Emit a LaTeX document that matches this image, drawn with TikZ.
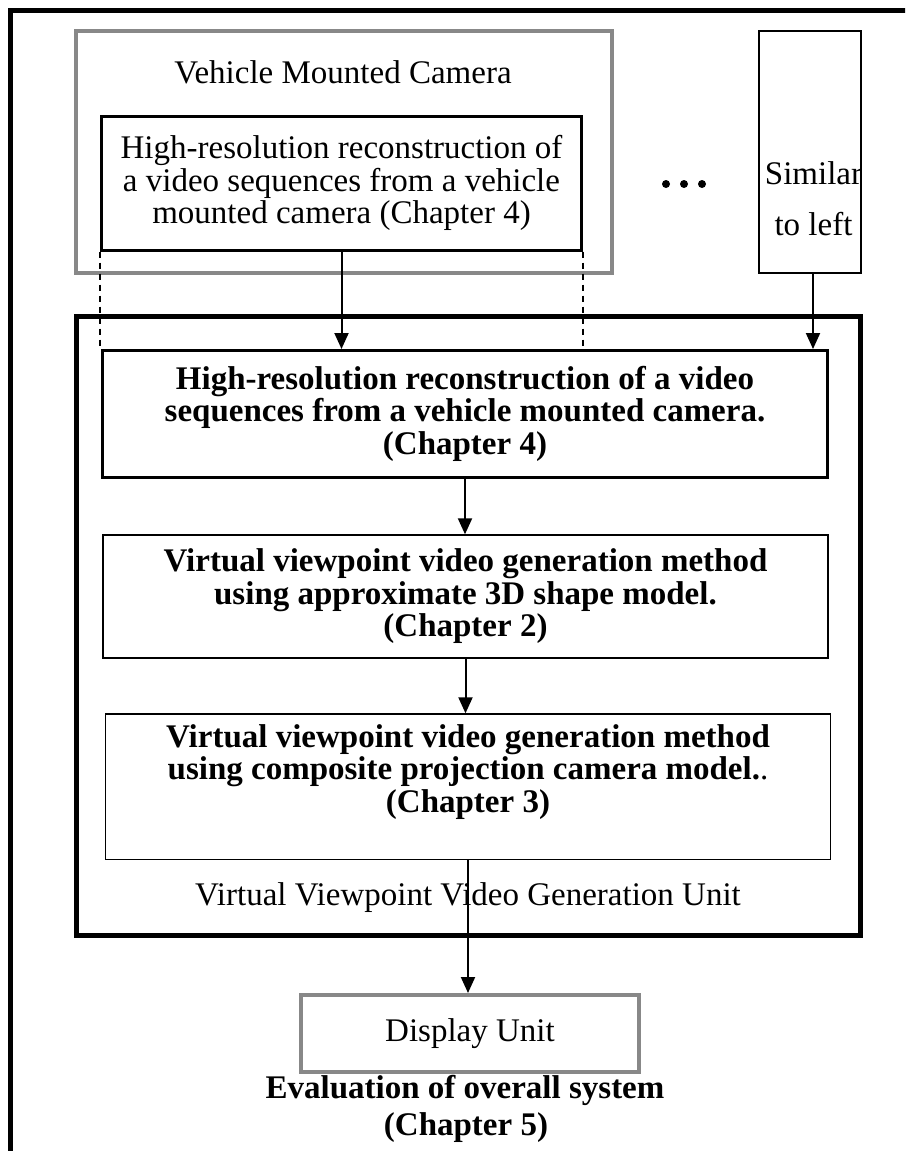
\documentclass[tikz,border=0pt]{standalone}
\usepackage{fontspec}
\setmainfont{Liberation Serif}
\usetikzlibrary{arrows.meta}
\definecolor{framegray}{HTML}{888888}
\begin{document}
\begin{tikzpicture}[x=1pt,y=-1pt,
  every node/.style={font=\fontsize{33}{32.5}\selectfont, inner sep=0pt},
  boldtext/.style={font=\fontsize{33}{32.5}\selectfont\bfseries},
  graybox/.style={draw=framegray, line width=4pt, rectangle},
  heavybox/.style={draw, line width=3pt, rectangle},
  lightbox/.style={draw, line width=1.4pt, rectangle},
  unitframe/.style={draw, line width=5pt, rectangle},
  flow/.style={line width=2pt, -{Triangle[length=16pt,width=14pt]}},
  guide/.style={line width=1.3pt, dash pattern=on 6pt off 5pt}
]
\useasboundingbox (0,0) rectangle (905,1151);
\clip (0,0) rectangle (905,1151);
\fill[white] (0,0) rectangle (905,1151);

% outer page frame (runs off the right and bottom edges)
\draw[line width=5pt] (10.5,1200) -- (10.5,10.5) -- (960,10.5);

% camera side
\node[graybox, minimum width=535.5, minimum height=242] (vmc) at (343.75,152) {};
\node (vmclabel) at (343,72) {Vehicle Mounted Camera};
\node[heavybox, minimum width=480, minimum height=133.5, align=center] (cam) at (341.5,183.25)
  {High-resolution reconstruction of\\a video sequences from a vehicle\\mounted camera (Chapter 4)};

% ellipsis between cameras
\fill (666,184) circle (4);
\fill (684,184) circle (4);
\fill (702,184) circle (4);

\node[lightbox, minimum width=102, minimum height=242] (sim) at (810,152) {};
\node[align=center, font=\fontsize{33}{51}\selectfont] (simtext) at (813.5,198.5) {Similar\\to left};

% generation unit
\node[unitframe, minimum width=784.5, minimum height=619] (unit) at (468.25,626) {};

\node[heavybox, boldtext, minimum width=725, minimum height=126.5, align=center] (b1) at (465,413.75)
  {High-resolution reconstruction of a video\\sequences from a vehicle mounted camera.\\(Chapter 4)};
\node[lightbox, boldtext, minimum width=725, minimum height=123, align=center] (b2) at (465.5,596.5)
  {Virtual viewpoint video generation method\\using approximate 3D shape model.\\(Chapter 2)};
\node[lightbox, minimum width=725, minimum height=145.5] (b3) at (468,786.75) {};
\node[boldtext, align=center] (b3text) at (468,772)
  {Virtual viewpoint video generation method\\using composite projection camera model.{\mdseries .}\\(Chapter 3)};
\node (unitlabel) at (468,898) {Virtual Viewpoint Video Generation Unit};

% display
\node[graybox, minimum width=338, minimum height=77] (disp) at (470,1033.5) {Display Unit};
\node[boldtext] (eval) at (465,1090) {Evaluation of overall system};
\node[boldtext] (ch5) at (466,1128) {(Chapter 5)};

% connectors
\draw[guide] (cam.south west) -- (cam.south west |- b1.north);
\draw[guide] (cam.south east) -- (cam.south east |- b1.north);
\draw[flow] (cam.south) -- (cam.south |- b1.north);
\draw[flow] ([xshift=3pt]sim.south) -- ([xshift=3pt]sim.south |- b1.north);
\draw[flow] (b1.south) -- (b1.south |- b2.north);
\draw[flow] (b2.south) -- (b2.south |- b3.north);
\draw[flow] (b3.south) -- (b3.south |- disp.north);
\end{tikzpicture}
\end{document}
